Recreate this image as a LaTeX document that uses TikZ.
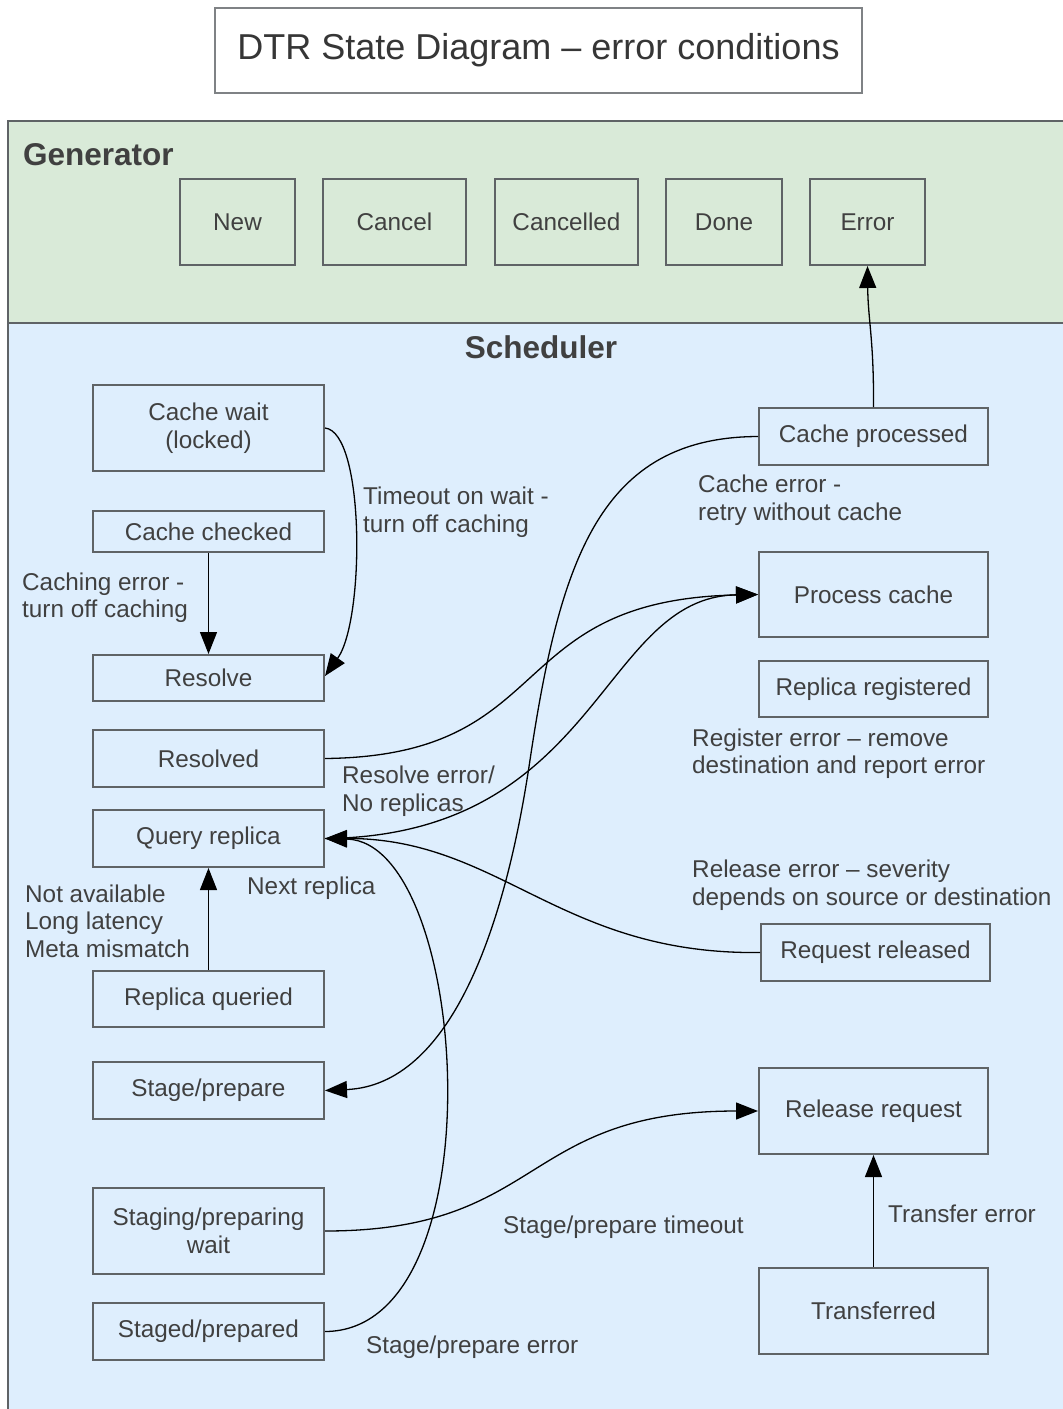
\documentclass[tikz,border=0pt]{standalone}
\usepackage{fontspec}
\setmainfont{Liberation Sans}
\usetikzlibrary{arrows.meta}
\definecolor{genfill}{HTML}{D9EAD8}
\definecolor{schfill}{HTML}{DEEEFD}
\definecolor{bord}{HTML}{5F6366}
\definecolor{txt}{HTML}{404040}
\tikzset{
  box/.style={draw=bord, line width=2pt, inner sep=0pt, align=center, text=txt,
    font=\fontsize{24.3}{27.5}\selectfont},
  lbl/.style={inner sep=0pt, align=left, anchor=west, text=txt,
    font=\fontsize{24.3}{27.5}\selectfont},
  conn/.style={line width=1.3pt, black, -{Triangle[length=22pt,width=17pt]}},
  head/.style={inner sep=0pt, text=txt, font=\fontsize{31.5}{34}\selectfont\bfseries},
}
\begin{document}
\begin{tikzpicture}[x=1pt,y=-1pt]
\useasboundingbox (0,0) rectangle (1063,1409);
\fill[white] (0,0) rectangle (1063,1409);
% title
\node[draw=bord!80, line width=2pt, minimum width=647pt, minimum height=85pt, inner sep=0pt,
  text=txt!85!black, font=\fontsize{36}{40}\selectfont] (title) at (538.5,50.5) {DTR State Diagram -- error conditions};
% lanes
\draw[bord, line width=2pt, fill=genfill] (1075,121) -- (8,121) -- (8,323) -- (1075,323);
\draw[bord, line width=2pt, fill=schfill] (1075,323) -- (8,323) -- (8,1420) -- (1075,1420);
\node[head, anchor=west] (gen) at (23,155) {Generator};
\node[head] (sch) at (541,347) {Scheduler};
% generator states
\node[box, minimum width=115pt, minimum height=86pt] (new) at (237.5,222) {New};
\node[box, minimum width=143pt, minimum height=86pt] (cancel) at (394.5,222) {Cancel};
\node[box, minimum width=143pt, minimum height=86pt] (cancelled) at (566.5,222) {Cancelled};
\node[box, minimum width=116pt, minimum height=86pt] (done) at (724,222) {Done};
\node[box, minimum width=115pt, minimum height=86pt] (error) at (867.5,222) {Error};
% scheduler left column
\node[box, minimum width=231pt, minimum height=86pt] (cw) at (208.5,428) {Cache wait\\(locked)};
\node[box, minimum width=231pt, minimum height=41pt] (cc) at (208.5,531.5) {Cache checked};
\node[box, minimum width=231pt, minimum height=46pt] (rs) at (208.5,678) {Resolve};
\node[box, minimum width=231pt, minimum height=57pt] (rd) at (208.5,758.5) {Resolved};
\node[box, minimum width=231pt, minimum height=57pt] (qr) at (208.5,838.5) {Query replica};
\node[box, minimum width=231pt, minimum height=56pt] (rq) at (208.5,999) {Replica queried};
\node[box, minimum width=231pt, minimum height=57pt] (sp) at (208.5,1090.5) {Stage/prepare};
\node[box, minimum width=231pt, minimum height=86pt] (sw) at (208.5,1231) {Staging/preparing\\wait};
\node[box, minimum width=231pt, minimum height=57pt] (sd) at (208.5,1331.5) {Staged/prepared};
% scheduler right column
\node[box, minimum width=229pt, minimum height=57pt] (cp) at (873.5,436.5) {Cache processed};
\node[box, minimum width=229pt, minimum height=85pt] (pc) at (873.5,594.5) {Process cache};
\node[box, minimum width=229pt, minimum height=56pt] (rr) at (873.5,689) {Replica registered};
\node[box, minimum width=229pt, minimum height=57pt] (rel) at (875.5,952.5) {Request released};
\node[box, minimum width=229pt, minimum height=86pt] (rreq) at (873.5,1111) {Release request};
\node[box, minimum width=229pt, minimum height=86pt] (tr) at (873.5,1311) {Transferred};
% connectors
\draw[conn] (cp.north) .. controls (874,340) and (868,320) .. (error.south);
\draw[conn] (cw.east) .. controls (365,432) and (365,620) .. ([yshift=2pt]rs.east);
\draw[conn] (cc.south) -- (rs.north);
\draw[conn] (rd.east) .. controls (560,756) and (500,600) .. (pc.west);
\draw[conn] (qr.east) .. controls (600,836) and (600,597) .. (pc.west);
\draw[conn] (rel.west) .. controls (560,955) and (500,838) .. (qr.east);
\draw[conn] (sd.east) .. controls (500,1331) and (470,842) .. (qr.east);
\draw[conn] (rq.north) -- (qr.south);
\draw[conn] (cp.west) .. controls (600,437) and (560,560) .. (530,760) .. controls (505,930) and (450,1085) .. (sp.east);
\draw[conn] (sw.east) .. controls (545,1231) and (520,1111) .. (rreq.west);
\draw[conn] (tr.north) -- (rreq.south);
% labels
\node[lbl] (l1) at (363,512) {Timeout on wait -\\turn off caching};
\node[lbl] (l2) at (22,597.5) {Caching error -\\turn off caching};
\node[lbl] (l3) at (698,500) {Cache error -\\retry without cache};
\node[lbl] (l4) at (342,791) {Resolve error/\\No replicas};
\node[lbl] (l5) at (692,753.5) {Register error -- remove\\destination and report error};
\node[lbl] (l6) at (247,888) {Next replica};
\node[lbl] (l7) at (25,921) {Not available\\Long latency\\Meta mismatch};
\node[lbl] (l8) at (692,885) {Release error -- severity\\depends on source or destination};
\node[lbl] (l9) at (503,1227) {Stage/prepare timeout};
\node[lbl] (l10) at (888,1214) {Transfer error};
\node[lbl] (l11) at (366,1347) {Stage/prepare error};
\end{tikzpicture}
\end{document}
